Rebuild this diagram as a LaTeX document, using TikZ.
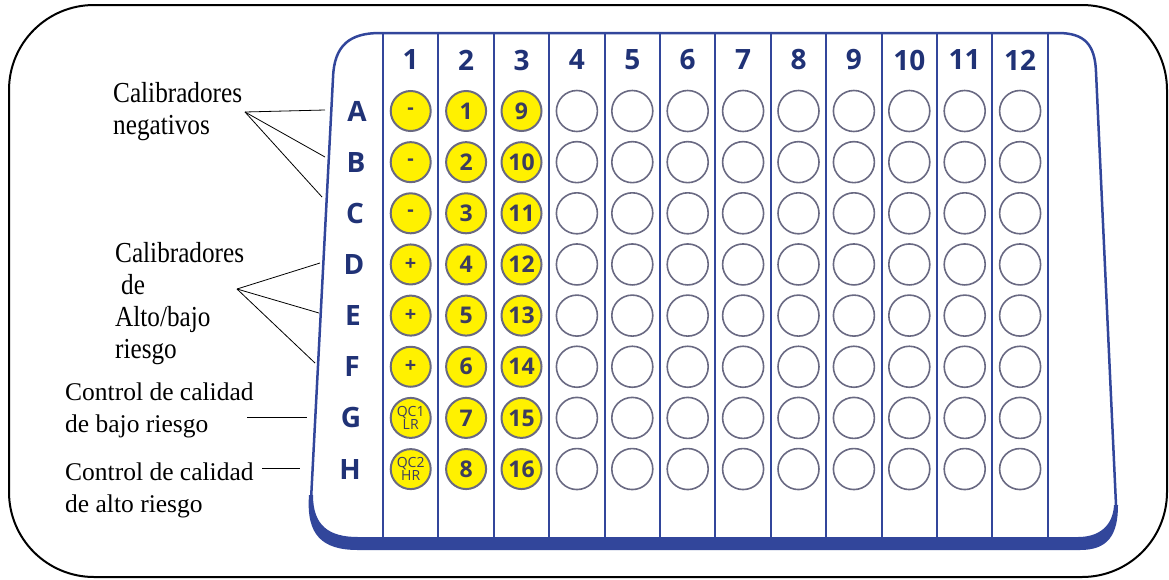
\documentclass[tikz,border=0pt]{standalone}
\usepackage{fontspec}
\setmainfont{Liberation Serif}
\newfontfamily\ctlfont{Liberation Serif}
\newfontfamily\calfont[FakeStretch=0.87]{Liberation Serif}
\newfontfamily\platefont{Open Sans}
\definecolor{plateblue}{RGB}{50,70,155}
\definecolor{navy}{RGB}{32,50,118}
\definecolor{wellyellow}{RGB}{255,241,0}
\definecolor{wellrim}{RGB}{105,105,130}
\definecolor{wellnum}{RGB}{60,60,95}
\tikzset{
  plateline/.style={draw=plateblue, line width=2.5pt},
  divider/.style={draw=plateblue, line width=2pt},
  headtext/.style={font=\platefont\bfseries\fontsize{28}{28}\selectfont, text=navy, inner sep=0pt},
  fullwell/.style={circle, draw=wellrim, line width=2pt, fill=wellyellow, minimum size=40pt, inner sep=0pt, text=wellnum, font=\platefont\bfseries\fontsize{23}{23}\selectfont},
  signwell/.style={fullwell, font=\platefont\bfseries\fontsize{20}{20}\selectfont},
  qcwell/.style={fullwell, align=center, font=\platefont\fontsize{14}{11}\selectfont},
  emptywell/.style={circle, draw=wellrim, line width=1.6pt, fill=white, minimum size=41pt, inner sep=0pt},
  callbl/.style={font=\calfont\fontsize{29}{32}\selectfont, align=left, anchor=north west, inner sep=0pt},
  ctllbl/.style={font=\ctlfont\fontsize{25.5}{32}\selectfont, align=left, anchor=north west, inner sep=0pt},
  link/.style={draw=black, line width=0.8pt},
  outerframe/.style={draw=black, line width=2pt, rounded corners=85pt}
}
\begin{document}
\begin{tikzpicture}[x=1pt,y=-1pt]
\useasboundingbox (0,0) rectangle (1169,579);
% outer frame
\draw[outerframe] (9,5) rectangle (1167,577);
% plate outline
\draw[plateline] (311,500) -- (333,78) .. controls (334,45) and (350,33) .. (380,33) -- (1058,33) .. controls (1085,33) and (1095,45) .. (1096,72) -- (1116,505);
\fill[plateblue] (309,495) .. controls (306,535) and (322,550) .. (358,550) -- (1080,550) .. controls (1108,550) and (1118,535) .. (1118,505) -- (1114,505) .. controls (1113,525) and (1100,537) .. (1078,537) -- (358,537) .. controls (328,537) and (313,525) .. (313,495) -- cycle;
% dividers
\foreach \i in {0,...,12} {
  \draw[divider] ({383+55.4*\i},33) -- ({383+55.4*\i},538);
}
% column numbers
\foreach \c in {1,...,12} {
  \node[headtext] (col-\c) at ({383+55.4*(\c-0.5)},60) {\c};
}
% row letters and empty wells
\foreach \rl [count=\ri] in {A,B,C,D,E,F,G,H} {
  \node[headtext] (row-\rl) at ({357-(\ri-1)},{111+51.15*(\ri-1)}) {\rl};
  \foreach \c in {4,...,12} {
    \node[emptywell] (w-\rl-\c) at ({383+55.4*(\c-0.5)},{111+51.15*(\ri-1)}) {};
  }
}
% column 1
\foreach \rl/\s [count=\ri] in {A/-,B/-,C/-,D/+,E/+,F/+} {
  \node[signwell] (w-\rl-1) at (410.7,{111+51.15*(\ri-1)}) {\s};
}
\node[qcwell] (w-G-1) at (410.7,417.9) {QC1\\LR};
\node[qcwell] (w-H-1) at (410.7,469.1) {QC2\\HR};
% columns 2 and 3
\foreach \rl/\a/\b [count=\ri] in {A/1/9,B/2/10,C/3/11,D/4/12,E/5/13,F/6/14,G/7/15,H/8/16} {
  \node[fullwell] (w-\rl-2) at (466.1,{111+51.15*(\ri-1)}) {\a};
  \node[fullwell] (w-\rl-3) at (521.5,{111+51.15*(\ri-1)}) {\b};
}
% labels
\node[callbl] (negcal) at (113,82) {Calibradores\\negativos};
\node[callbl] (altocal) at (115,242) {Calibradores\\\hspace*{6pt}de\\Alto/bajo\\riesgo};
\node[ctllbl] (ctlbajo) at (65,383) {Control de calidad\\de bajo riesgo};
\node[ctllbl] (ctlalto) at (65,463) {Control de calidad\\de alto riesgo};
% connector coordinates
\coordinate (nj) at (245,112);
\coordinate (nA) at (325,110);
\coordinate (nB) at (325,157);
\coordinate (nC) at (322,197);
\coordinate (aj) at (237,289);
\coordinate (aD) at (320,263);
\coordinate (aE) at (319,313);
\coordinate (aF) at (315,363);
\coordinate (g1) at (247,417);
\coordinate (g2) at (307,417);
\coordinate (h1) at (262,468);
\coordinate (h2) at (300,468);
\draw[link] (nj) -- (nA);
\draw[link] (nj) -- (nB);
\draw[link] (nj) -- (nC);
\draw[link] (aj) -- (aD);
\draw[link] (aj) -- (aE);
\draw[link] (aj) -- (aF);
\draw[link] (g1) -- (g2);
\draw[link] (h1) -- (h2);
\end{tikzpicture}
\end{document}
